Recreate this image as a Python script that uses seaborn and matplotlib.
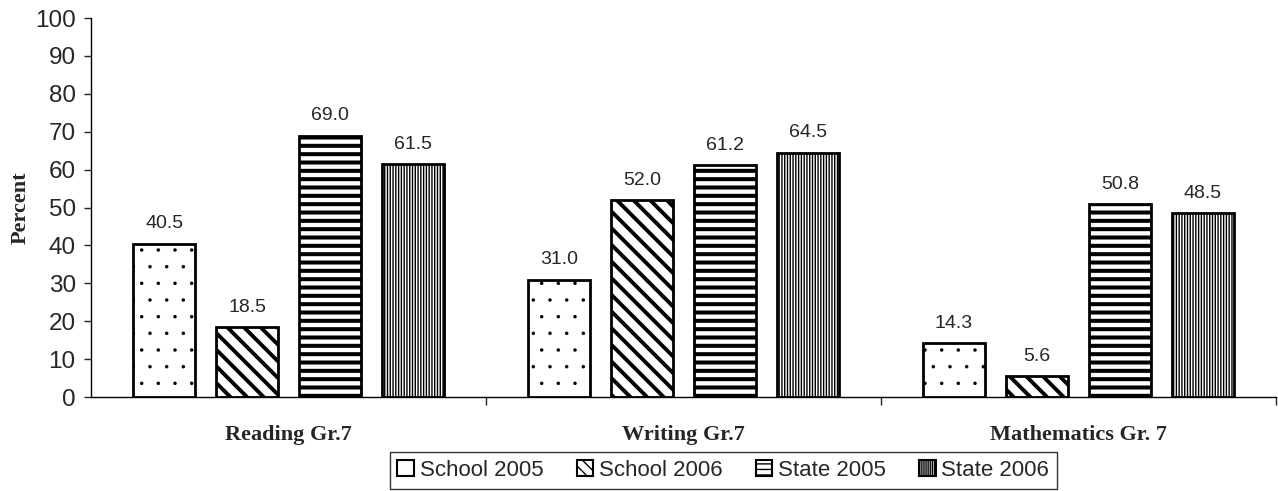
import matplotlib
matplotlib.use("Agg")
import matplotlib.pyplot as plt
from matplotlib.patches import Patch
import pandas as pd
import seaborn as sns

# Proficiency percentages by subject
subjects = ["Reading Gr.7", "Writing Gr.7", "Mathematics Gr. 7"]
series = ["School 2005", "School 2006", "State 2005", "State 2006"]
school_2005 = [40.5, 31.0, 14.3]
school_2006 = [18.5, 52.0, 5.6]
state_2005 = [69.0, 61.2, 50.8]
state_2006 = [61.5, 64.5, 48.5]
y_ticks = list(range(0, 101, 10))

values = {
    "School 2005": school_2005,
    "School 2006": school_2006,
    "State 2005": state_2005,
    "State 2006": state_2006,
}
df = pd.DataFrame(
    [(subj, s, v) for s in series for subj, v in zip(subjects, values[s])],
    columns=["Subject", "Series", "Percent"],
)

# black-and-white fill patterns for each series
hatches = {"School 2005": ".", "School 2006": "\\\\", "State 2005": "--", "State 2006": "||||||"}
hatch_lw = {"School 2005": 0.1, "School 2006": 2.8, "State 2005": 2.9, "State 2006": 1.0}
legend_hatches = {"School 2005": "", "School 2006": "\\\\\\", "State 2005": "---", "State 2006": "||||||||"}
legend_hatch_lw = {"School 2005": 1.0, "School 2006": 2.5, "State 2005": 2.0, "State 2006": 1.2}

sns.set_style("ticks")
plt.rcParams["font.family"] = ["Liberation Sans", "DejaVu Sans"]
plt.rcParams["hatch.color"] = "black"

fig = plt.figure(figsize=(12.78, 4.91), dpi=100)
ax = fig.add_axes([0.0712, 0.1914, 0.9272, 0.7719])

sns.barplot(
    data=df, x="Subject", y="Percent", hue="Series",
    order=subjects, hue_order=series,
    palette=["white"] * 4, edgecolor="black", linewidth=2.0,
    width=0.84, gap=0.25, legend=False, ax=ax,
)

for cont, s in zip(ax.containers, series):
    for bar in cont:
        bar.set_hatch(hatches[s])
        if hasattr(bar, "set_hatch_linewidth"):
            bar.set_hatch_linewidth(hatch_lw[s])
    ax.bar_label(cont, fmt="%.1f", padding=8, fontsize=14)

ax.set_ylim(0, 100)
ax.set_yticks(y_ticks)
ax.set_xlim(-0.5, 2.5)
ax.tick_params(axis="y", labelsize=17.5, length=5, width=1, direction="out", pad=6)
ax.tick_params(axis="x", which="major", length=0, pad=20)
ax.set_xticks([0.5, 1.5, 2.5], minor=True)
ax.tick_params(axis="x", which="minor", length=6, width=1, direction="out")
for lab in ax.get_xticklabels():
    lab.set_fontfamily(["Liberation Serif", "DejaVu Serif"])
    lab.set_fontweight("bold")
    lab.set_fontsize(16)

ax.set_xlabel("")
ax.set_ylabel("Percent", fontsize=16, fontweight="bold",
              family=["Liberation Serif", "DejaVu Serif"])
ax.yaxis.set_label_coords(-0.051, 0.5)
for side in ("top", "right"):
    ax.spines[side].set_visible(False)
for side in ("left", "bottom"):
    ax.spines[side].set_linewidth(1.0)
    ax.spines[side].set_color("black")

handles = []
for s in series:
    p = Patch(facecolor="white", edgecolor="black", hatch=legend_hatches[s], linewidth=1.5, label=s)
    if hasattr(p, "set_hatch_linewidth"):
        p.set_hatch_linewidth(legend_hatch_lw[s])
    handles.append(p)
leg = fig.legend(
    handles=handles, loc="upper center", bbox_to_anchor=(0.566, 0.079),
    ncol=4, fontsize=16, frameon=True, fancybox=False, edgecolor="black",
    handlelength=0.75, handleheight=0.75, handletextpad=0.25, columnspacing=1.5,
    borderpad=0.35, borderaxespad=0.0,
)
leg.get_frame().set_linewidth(1.0)

fig.savefig("out.png", dpi=100)
